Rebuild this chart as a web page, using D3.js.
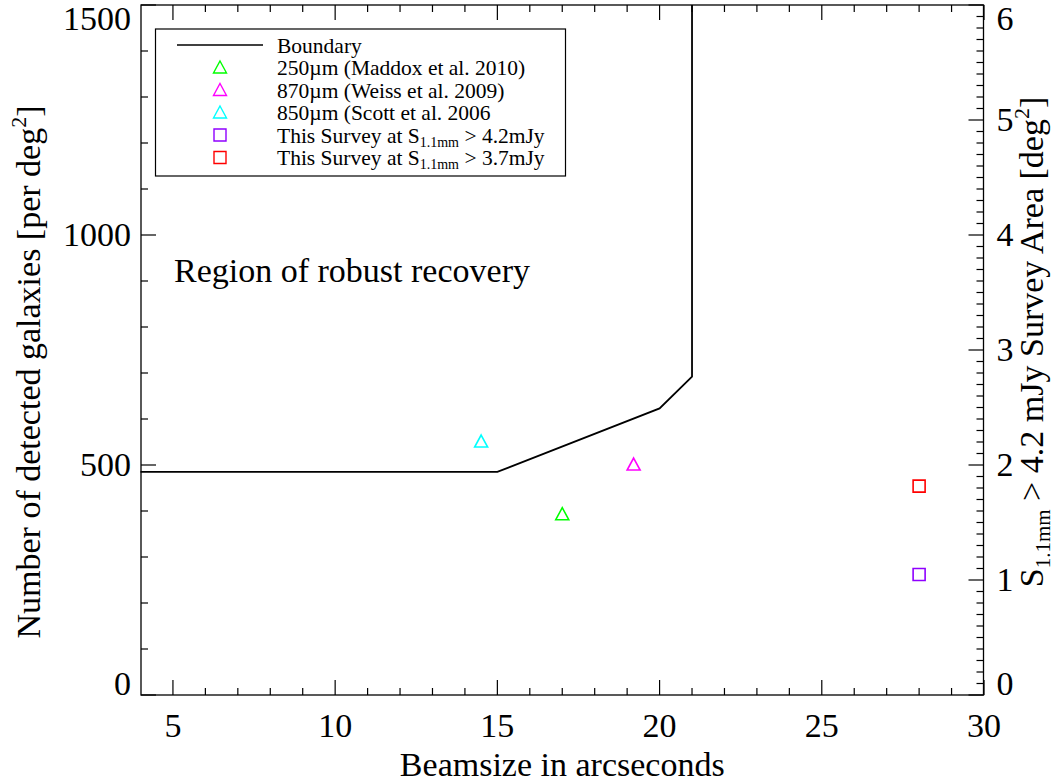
<!DOCTYPE html>
<html><head><meta charset="utf-8">
<script src="https://cdn.jsdelivr.net/npm/d3@7"></script>
<style>
html,body{margin:0;padding:0;background:#fff;}
svg text{font-family:"Liberation Serif","DejaVu Serif","Times New Roman",Times,serif;fill:#000;}
</style></head>
<body>
<svg id="c" width="1054" height="783" font-family="Liberation Serif, DejaVu Serif, serif"></svg>
<script>
// ---- data ----
const xDomain = [4, 30];
const yDomain = [0, 1500];
const y2Domain = [0, 6];
const xMajorTicks = [5, 10, 15, 20, 25, 30];
const yMajorTicks = [0, 500, 1000, 1500];
const y2MajorTicks = [0, 1, 2, 3, 4, 5, 6];

const boundaryX = [4, 15, 20, 21, 21];
const boundaryY = [485, 485, 623, 692, 1500];

const maddoxX = [17.0], maddoxY = [393];
const weissX = [19.2], weissY = [501];
const scottX = [14.5], scottY = [551];
const survey42X = [28], survey42Y = [262];
const survey37X = [28], survey37Y = [454];

const legendLabels = ["Boundary", "250µm (Maddox et al. 2010)", "870µm (Weiss et al. 2009)",
  "850µm (Scott et al. 2006", "This Survey at S|1.1mm| > 4.2mJy", "This Survey at S|1.1mm| > 3.7mJy"];

// ---- layout ----
const L = 141, R = 983.5, T = 5, B = 695;
const FONT = "Liberation Serif, DejaVu Serif, serif";
const svg = d3.select("#c");
const x = d3.scaleLinear().domain(xDomain).range([140.5, 984]);
const y = d3.scaleLinear().domain(yDomain).range([B, T]);
const y2 = d3.scaleLinear().domain(y2Domain).range([B, T]);

const ink = "#000";
const fs = 34;

function txt(parent) {
  return parent.append("text").attr("font-family", FONT);
}

// frame
svg.append("rect").attr("x", L).attr("y", T).attr("width", R - L).attr("height", B - T)
  .attr("fill", "none").attr("stroke", ink).attr("stroke-width", 1.3);

const majLen = 15, minLen = 7;
const g = svg.append("g").attr("stroke", ink).attr("stroke-width", 1.2);
d3.range(5, 31, 1).forEach(v => {
  const len = (v % 5 === 0) ? majLen : minLen;
  g.append("line").attr("x1", x(v)).attr("x2", x(v)).attr("y1", B).attr("y2", B - len);
  g.append("line").attr("x1", x(v)).attr("x2", x(v)).attr("y1", T).attr("y2", T + len);
});
d3.range(0, 1501, 100).forEach(v => {
  const len = (v % 500 === 0) ? majLen : minLen;
  g.append("line").attr("x1", L).attr("x2", L + len).attr("y1", y(v)).attr("y2", y(v));
});
d3.range(0, 61, 1).forEach(k => {
  const v = k / 10;
  const len = (k % 10 === 0) ? majLen : minLen;
  g.append("line").attr("x1", R).attr("x2", R - len).attr("y1", y2(v)).attr("y2", y2(v));
});

// tick labels
xMajorTicks.forEach(v => {
  txt(svg).attr("x", x(v)).attr("y", B + 42).attr("text-anchor", "middle")
    .attr("font-size", fs).text(v);
});
function clampY(py) {
  const half = 11;
  return Math.min(Math.max(py, T + half + 3), B - half) + 11;
}
yMajorTicks.forEach(v => {
  txt(svg).attr("x", L - 10).attr("y", clampY(y(v))).attr("text-anchor", "end")
    .attr("font-size", fs).text(v);
});
y2MajorTicks.forEach(v => {
  txt(svg).attr("x", R + 13).attr("y", clampY(y2(v))).attr("text-anchor", "start")
    .attr("font-size", fs).text(v);
});

// axis titles
txt(svg).attr("x", (L + R) / 2).attr("y", 776).attr("text-anchor", "middle")
  .attr("font-size", fs).text("Beamsize in arcseconds");

const yl = txt(svg).attr("transform", `translate(40,${(T + B) / 2 + 22}) rotate(-90)`)
  .attr("text-anchor", "middle").attr("font-size", fs);
yl.append("tspan").text("Number of detected galaxies [per deg");
yl.append("tspan").attr("font-size", 22).attr("dy", -14).text("2");
yl.append("tspan").attr("dy", 14).text("]");

const yr = txt(svg).attr("transform", `translate(1043,${(T + B) / 2 - 8}) rotate(-90)`)
  .attr("text-anchor", "middle").attr("font-size", fs);
yr.append("tspan").text("S");
yr.append("tspan").attr("font-size", 21).attr("dy", 7).text("1.1mm");
yr.append("tspan").attr("dy", -7).text(" > 4.2 mJy Survey Area [deg");
yr.append("tspan").attr("font-size", 22).attr("dy", -14).text("2");
yr.append("tspan").attr("dy", 14).text("]");

// annotation
txt(svg).attr("x", 174).attr("y", 282).attr("font-size", fs).text("Region of robust recovery");

// boundary line
const line = d3.line().x(d => x(d[0])).y(d => y(d[1]));
svg.append("path").datum(boundaryX.map((v, i) => [v, boundaryY[i]]))
  .attr("d", line).attr("fill", "none").attr("stroke", ink).attr("stroke-width", 1.8);

// markers
const triPath = "M0,-6.5L6.5,5.5L-6.5,5.5Z";
const sqPath = "M-6,-6L6,-6L6,6L-6,6Z";
function drawPts(xs, ys, path, color) {
  xs.forEach((v, i) => {
    svg.append("path").attr("d", path).attr("transform", `translate(${x(v)},${y(ys[i])})`)
      .attr("fill", "none").attr("stroke", color).attr("stroke-width", 1.6);
  });
}
const series = [
  {xs: maddoxX, ys: maddoxY, path: triPath, color: "#00ff00"},
  {xs: weissX, ys: weissY, path: triPath, color: "#ff00ff"},
  {xs: scottX, ys: scottY, path: triPath, color: "#00ffff"},
  {xs: survey42X, ys: survey42Y, path: sqPath, color: "#8f00ff"},
  {xs: survey37X, ys: survey37Y, path: sqPath, color: "#ff0000"}
];
series.forEach(s => drawPts(s.xs, s.ys, s.path, s.color));

// legend
const lg = svg.append("g");
lg.append("rect").attr("x", 155.5).attr("y", 29).attr("width", 410).attr("height", 147)
  .attr("fill", "#fff").attr("stroke", ink).attr("stroke-width", 1.2);
const rowY = d => 45 + d * 22.5;
lg.append("line").attr("x1", 177).attr("x2", 263).attr("y1", rowY(0)).attr("y2", rowY(0))
  .attr("stroke", ink).attr("stroke-width", 1.3);
series.forEach((s, i) => {
  lg.append("path").attr("d", s.path).attr("transform", `translate(220,${rowY(i + 1)})`)
    .attr("fill", "none").attr("stroke", s.color).attr("stroke-width", 1.4);
});
legendLabels.forEach((lab, i) => {
  const t = txt(lg).attr("x", 277).attr("y", rowY(i) + 7.5).attr("font-size", 21.5);
  const parts = lab.split("|");
  if (parts.length === 1) { t.text(lab); }
  else {
    t.append("tspan").text(parts[0]);
    t.append("tspan").attr("font-size", 14).attr("dy", 4).text(parts[1]);
    t.append("tspan").attr("dy", -4).text(parts[2]);
  }
});
</script>
</body></html>
